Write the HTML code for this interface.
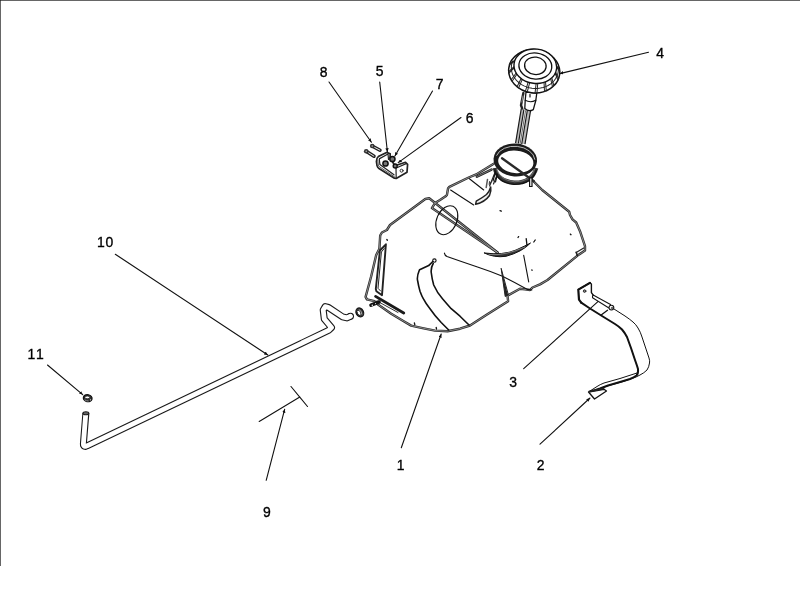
<!DOCTYPE html>
<html><head><meta charset="utf-8">
<style>
html,body{margin:0;padding:0;background:#fff;}
body{width:800px;height:600px;overflow:hidden;position:relative;font-family:"Liberation Sans",sans-serif;}
svg{position:absolute;left:0;top:0;}
text{font-family:"Liberation Sans",sans-serif;font-size:15px;fill:#000;text-anchor:middle;stroke:#000;stroke-width:0.35px;}
.l{stroke:#111;stroke-width:1.1;fill:none;stroke-linecap:round;stroke-linejoin:round;}
.t{stroke:#111;stroke-width:0.9;fill:none;stroke-linecap:round;stroke-linejoin:round;}
.d{stroke:#222;stroke-width:2.6;fill:none;stroke-linecap:round;stroke-linejoin:round;}
.dw{stroke:#fff;stroke-width:0.9;fill:none;stroke-linecap:round;stroke-linejoin:round;}
.k{stroke:#000;stroke-width:2;fill:none;stroke-linecap:round;stroke-linejoin:round;}
</style></head><body>
<svg width="800" height="600" viewBox="0 0 800 600">
<defs>
<marker id="a" viewBox="0 0 10 10" refX="10" refY="5" markerWidth="3.6" markerHeight="3.4" preserveAspectRatio="none" orient="auto" markerUnits="userSpaceOnUse"><path d="M0,0 L10,5 L0,10 z" fill="#111"/></marker>
</defs>
<!-- frame -->
<rect x="0" y="0" width="800" height="1" fill="#666"/>
<rect x="0" y="0" width="1" height="566" fill="#666"/><rect x="0" y="0" width="1" height="1" fill="#333"/>

<!-- LABELS -->
<g id="labels" style="filter:grayscale(1)" >
<text transform="translate(323.7,76.5) scale(0.93,1)">8</text>
<text transform="translate(379.7,76) scale(0.93,1)">5</text>
<text transform="translate(439.7,88.5) scale(0.93,1)">7</text>
<text transform="translate(469.7,122.5) scale(0.93,1)">6</text>
<text transform="translate(660.2,58) scale(0.93,1)">4</text>
<text transform="translate(105.6,246.6) scale(0.93,1)" style="letter-spacing:0.9px">10</text>
<text transform="translate(36.6,358.5) scale(0.93,1)" style="letter-spacing:2px">11</text>
<text transform="translate(266.9,517) scale(0.93,1)">9</text>
<text transform="translate(400.5,469.6) scale(0.93,1)">1</text>
<text transform="translate(540.7,470.4) scale(0.93,1)">2</text>
<text transform="translate(513.2,387) scale(0.93,1)">3</text>
</g>

<!-- TANK -->
<g id="tank" fill="none" stroke-linecap="round" stroke-linejoin="round">
<path d="M493.7,163.7 L476.2,174.4 L468.7,177.5 L449.4,186.9 L448.1,188.3 L446.9,195 L445.6,196.3 L440,200 L435,203.1 L431.9,208.1 L497.5,252.5" stroke="#2b2b2b" stroke-width="2.4"/>
<path d="M497.5,252.5 L429.2,198.3 L425.3,199 L390,225 L386.9,230 L381.9,232.5 L380.2,235.5 L379.4,248.7 L376.2,255 L371.2,276.2 L365.6,296.9 L366.9,299.4 L374.4,301.2 L378.7,305 L391.2,313.7 L403.7,321.2 L411.2,325.6 L422.5,328.1 L435,330.6 L447.5,331.2 L460,328.7 L470,325.5 L486.2,315 L508.1,301.2 L507.5,295.6 L520,288.7 L525,289.4 L530,290 L532.5,287.5 L540,284.4 L547.5,280 L577.5,255.6 L585,250.6 L585,246.2 L580,231.2 L576.2,222.5 L572.5,219.4 L570,215 L569.2,211.7 L542.2,190 L533.7,181.5" stroke="#2b2b2b" stroke-width="2.4"/>
<path d="M493.7,163.7 L476.2,174.4 L468.7,177.5 L449.4,186.9 L448.1,188.3 L446.9,195 L445.6,196.3 L440,200 L435,203.1 L431.9,208.1 L497.5,252.5" stroke="#b0b0b0" stroke-width="0.7"/>
<path d="M497.5,252.5 L429.2,198.3 L425.3,199 L390,225 L386.9,230 L381.9,232.5 L380.2,235.5 L379.4,248.7 L376.2,255 L371.2,276.2 L365.6,296.9 L366.9,299.4 L374.4,301.2 L378.7,305 L391.2,313.7 L403.7,321.2 L411.2,325.6 L422.5,328.1 L435,330.6 L447.5,331.2 L460,328.7 L470,325.5 L486.2,315 L508.1,301.2 L507.5,295.6 L520,288.7 L525,289.4 L530,290 L532.5,287.5 L540,284.4 L547.5,280 L577.5,255.6 L585,250.6 L585,246.2 L580,231.2 L576.2,222.5 L572.5,219.4 L570,215 L569.2,211.7 L542.2,190 L533.7,181.5" stroke="#b0b0b0" stroke-width="0.7"/>
<!-- raised rim near neck -->
<path d="M476.9,176.6 L491.5,169.6" stroke="#222" stroke-width="2.6"/>
<path d="M476.9,176.6 L491.5,169.6" stroke="#aaa" stroke-width="0.6"/>
<!-- tab notch right -->
<path d="M576.2,252.5 L583.7,248.1" stroke="#222" stroke-width="1.2"/>
<path d="M576.2,252.3 L577.3,255.5" stroke="#222" stroke-width="1.6"/>
<!-- interior lines -->
<path d="M469.4,178.7 L483.7,190 M450.6,190 L473.7,205" stroke="#111" stroke-width="1.1"/>
<ellipse cx="446.8" cy="220.2" rx="10" ry="15.2" transform="rotate(24 446.8 220.2)" stroke="#111" stroke-width="1.1"/>
<!-- smile -->
<path d="M484.4,253 Q503,255.5 516,250 Q526,245.5 530.5,243 Q522,252 506,256.3 Q494,258 484.4,253 Z" fill="#333" stroke="#111" stroke-width="1"/>
<path d="M489,254.6 Q505,256 525,247" stroke="#bbb" stroke-width="0.6"/>
<path d="M526.2,238.7 L526.9,244.6" stroke="#111" stroke-width="1.3"/>
<!-- crescent near neck -->
<path d="M475.6,204.3 Q485,202 489.5,195.5 Q491.5,191.5 490.7,187 Q489.5,191.5 486.5,194.5 Q482,198 476.3,201.2 Z" fill="#f0f0f0" stroke="#222" stroke-width="1.5"/>
<path d="M487.5,179.4 L486.2,187.5" stroke="#555" stroke-width="1.5"/>
<path d="M489.5,181.5 L489.2,184.5 M489.3,183 L491,182.6" stroke="#333" stroke-width="0.9"/>
<path d="M495,172.5 L489.6,186 M497.2,174.5 L493.5,184" stroke="#222" stroke-width="1.2"/>
<path d="M523.7,255.3 L528.7,281.9" stroke="#111" stroke-width="1.1"/>
<path d="M444.4,253.1 Q444.8,255.5 447,256.6 Q462,262 477.5,266.9 Q490,271 502.5,276.2 Q516,283 527.5,289.4 L531.9,290" stroke="#111" stroke-width="1.1"/>
<!-- vertical wedge -->
<path d="M501.2,268.7 L505.2,296.5 L508,295 Z" fill="#222" stroke="#222" stroke-width="1"/>
<!-- strap bands -->
<circle cx="434.4" cy="260.6" r="1.7" stroke="#111" stroke-width="1.1"/>
<path d="M432.8,261.5 L428.7,265.6 L419.6,269.8 M419.4,270 Q416.5,277 417.7,281 Q418.5,286 420,291.2 Q423,300 430,308.7 Q435,316 441.2,322.5 L448.7,330" stroke="#111" stroke-width="1.6"/>
<path d="M433.2,263.5 Q430.6,268 431.3,273 Q432,279 433.7,285 Q437,292.5 442.5,298.7 Q447,304 451.2,308.7 L460,316.2 L469,325" stroke="#111" stroke-width="1.6"/>
<!-- left window -->
<path d="M385.9,244.3 L379.9,250.5 L375.8,289 L376.4,291.3 L382,295.3 Z" stroke="#222" stroke-width="1.9"/>
<path d="M384.2,248.5 L381.4,252 L378,288.3 L380.6,291" stroke="#222" stroke-width="1"/>
<path d="M386.9,239.6 L387.3,240.2" stroke="#111" stroke-width="1.5"/>
<!-- bottom-left bar & bolt -->
<path d="M375.6,296.4 L403.7,313" stroke="#1a1a1a" stroke-width="2.8"/>
<path d="M377,301 L398,312.5" stroke="#333" stroke-width="1"/>
<path d="M371,305.2 L379,302" stroke="#111" stroke-width="3.6"/>
<circle cx="372.3" cy="305.2" r="0.8" fill="#eee"/><circle cx="375.5" cy="303.6" r="0.6" fill="#ddd"/>
<!-- ticks/dots -->
<path d="M500,210.7 L501.3,211.2 M570.3,234.1 L571,234.7 M518,237.5 L518.6,236.6 M533.8,242 L535.2,240 M531.7,270 L532.1,270.2 M414.4,323 L414.8,324.6 M436.2,327.5 L436.5,329" stroke="#111" stroke-width="1.3"/>
</g>
<!-- NECK RING -->
<g id="ring">
<!-- tubes from cap to ring -->
<path d="M522.6,109 L516.8,143 M529,111 L523.3,144" fill="none" stroke="#bbb" stroke-width="3"/>
<path d="M521.3,108.5 L515.6,143 M523.9,109.5 L518.4,143.5 M527.3,110.5 L521.7,144 M530.6,110.5 L525,144.2" fill="none" stroke="#1a1a1a" stroke-width="1.2"/>
<path d="M525.6,110.3 L520.1,143.8" fill="none" stroke="#555" stroke-width="0.9"/>
<!-- lower ring edge -->
<path d="M494.8,168 Q497,180.5 514,182.6 Q532,183 536.3,168" fill="none" stroke="#333" stroke-width="4.2"/>
<path d="M494.6,169.5 Q497.5,183 514,184.4 Q532,184.6 536.4,170" fill="none" stroke="#111" stroke-width="1.2"/>
<path d="M496.5,168.5 Q499,180 514.5,181.8 Q531,182 535,168.5" fill="none" stroke="#999" stroke-width="0.6"/>
<!-- tank edge through ring -->
<ellipse cx="515.3" cy="160" rx="21.8" ry="16.5" fill="#1c1c1c" transform="rotate(4 515.3 160)"/>
<ellipse cx="515.8" cy="161.9" rx="17.7" ry="11.2" fill="#fff" transform="rotate(6 515.8 161.9)"/>
<path d="M496.3,157 A19.6,13.9 0 0 1 534.8,158.3" fill="none" stroke="#c8c8c8" stroke-width="0.9" transform="rotate(4 515.3 160)"/>
<path d="M502,158.3 L534,181.2" fill="none" stroke="#2a2a2a" stroke-width="2.3" stroke-linecap="round"/>
<path d="M529.6,178 L529.6,186.5 L532,186.5 L532,178 Z" fill="#fff" stroke="#111" stroke-width="1.2"/>
<path class="l" d="M495.5,172 L493,181 M497.5,174 L495.5,182" />
</g>
<!-- CAP -->
<g id="cap" fill="none" stroke-linecap="round" stroke-linejoin="round">
<!-- stem -->
<path d="M526,92 L525.2,100.5 L524.8,108.5 Q528.5,112.2 533.3,109.6 L535.8,100.5 L536.8,93 Z" fill="#fff" stroke="#111" stroke-width="1.3"/>
<path d="M525.2,100.3 Q530.5,103.2 535.8,100.2" stroke="#111" stroke-width="1.1"/>
<path d="M523.4,93 L521,105.3 L522.2,108.4" stroke="#222" stroke-width="2.4"/>
<path d="M523,96 L521.9,102" stroke="#ddd" stroke-width="0.6"/>
<path d="M530,94.6 L530,97" stroke="#111" stroke-width="1.2"/>
<g transform="rotate(7 535 68)">
<ellipse cx="534.6" cy="71.3" rx="25.6" ry="21.6" fill="#fff" stroke="#111" stroke-width="1.5"/>
<path d="M558.0,64.5 L558.4,66.8 L558.5,69.2 L558.2,71.6 L557.6,73.9 L556.7,76.2 L555.5,78.3 L554.0,80.3 L552.2,82.2 L550.1,83.8 L547.9,85.2 L545.4,86.4 L542.8,87.3 L540.1,88.0 L537.3,88.4 L534.5,88.5 L531.7,88.3 L528.9,87.8 L526.2,87.1 L523.7,86.1 L521.3,84.8 L519.0,83.3 L517.1,81.6 L515.4,79.7 L513.9,77.7 L512.8,75.5 L511.9,73.2 L511.5,70.9 L511.3,68.5 L511.5,66.1 L512.0,63.8" stroke="#222" stroke-width="1"/>
<path d="M556.2,63.2 L559.8,67.0 M556.4,64.5 L560.1,68.7 M556.0,69.7 L559.7,75.4 M555.7,71.0 L559.2,77.1 M552.9,75.8 L555.9,83.2 M551.9,76.8 L554.7,84.6 M547.1,80.4 L549.0,89.3 M545.7,81.1 L547.3,90.2 M539.6,83.0 L540.0,92.6 M538.0,83.2 L538.1,92.9 M531.5,83.1 L530.2,92.8 M529.9,82.9 L528.3,92.4 M523.8,80.8 L521.1,89.8 M522.5,80.1 L519.5,88.8 M517.8,76.4 L513.9,84.0 M516.9,75.3 L512.8,82.6 M514.4,70.4 L509.8,76.3 M514.0,69.1 L509.4,74.7 M513.9,63.9 L509.2,67.9 M514.2,62.6 L509.6,66.2" stroke="#222" stroke-width="1"/>
<ellipse cx="535.1" cy="66.2" rx="21.4" ry="17.2" fill="#fff" stroke="#111" stroke-width="1.4"/>
<ellipse cx="535.1" cy="66" rx="16.5" ry="13" stroke="#111" stroke-width="1.3"/>
<ellipse cx="535.1" cy="65.8" rx="10.8" ry="8.7" stroke="#111" stroke-width="1.3"/>
</g>
</g>
<!-- BRACKET -->
<g id="bracket" fill="none" stroke-linecap="round" stroke-linejoin="round">
<path d="M372.6,146.2 L380,150.2 M366.6,151.5 L374,156.2" stroke="#222" stroke-width="3.5"/>
<path d="M374.6,147.4 L379.8,150.1 M368.6,152.8 L373.8,156.1" stroke="#fff" stroke-width="0.9"/>
<circle cx="372.2" cy="146" r="2.3" fill="#333"/><circle cx="366.2" cy="151.3" r="2.3" fill="#333"/>
<circle cx="372.2" cy="146" r="0.7" fill="#ccc"/><circle cx="366.2" cy="151.3" r="0.7" fill="#ccc"/>
<path d="M386.6,152.4 L378.3,156.6 Q376.5,158 376.4,161.4 L377,165.6 Q377.5,167.5 379,168.5 L394.4,178.2 L396.2,178.5 L407,172.2 L407.6,164.4 L405.5,162.3 L395,165.8 L390,158 L390.2,153.8 Z" fill="#fff" stroke="#222" stroke-width="1.7"/>
<path d="M379.6,158.6 L388,154 L388.5,159.5 M379.3,159.2 L379.9,164.6 L394,174.8 M396.2,168 L406.2,163.6 M396,168 L396.2,178" stroke="#222" stroke-width="1.2"/>
<path d="M377.8,160 L378.4,166 L394.5,176.8" stroke="#555" stroke-width="1"/>
<circle cx="401.6" cy="170.7" r="1.5" stroke="#222" stroke-width="0.9"/>
<circle cx="392.4" cy="159" r="2.6" fill="#777" stroke="#111" stroke-width="1.5"/>
<circle cx="385.5" cy="163.5" r="2.6" fill="#777" stroke="#111" stroke-width="1.5"/>
<circle cx="395.2" cy="166" r="2" fill="#777" stroke="#111" stroke-width="1.4"/>
</g>
<!-- STRAP -->
<g id="strap" fill="none" stroke-linecap="round" stroke-linejoin="round">
<!-- outer thin line -->
<path d="M614,309 L625,316 Q629.5,319 633,322 Q636,324.5 638,328 Q640.5,332 642,337 L646,349 L649,358 Q650,361 649.5,363 Q649,367 647,370 Q644,373 640,375 L636,377 Q625,381.5 608,385.8 Q603,387.5 600,388.7" stroke="#111" stroke-width="1"/>
<!-- upper thin line of bottom section -->
<path d="M637,373 L620,378.5 L604,383 Q600,384.5 597,386.5 L590,391" stroke="#111" stroke-width="1"/>
<!-- tab -->
<path d="M578.3,289.6 L589.9,282.9 L591.4,284 L591.4,292.6 L593.2,295.2" stroke="#111" stroke-width="1.4"/>
<path d="M589.9,282.9 L578.3,289.6 L579,299.7 L581.2,302.7" stroke="#111" stroke-width="2.2"/>
<circle cx="584.6" cy="291.1" r="1.3" fill="#888" stroke="#222" stroke-width="0.9"/>
<!-- pin -->
<path d="M593.2,295 L610.5,304.6 M592.6,297.8 L608.5,307.8 M592.6,297.8 Q592.2,296 593.2,295" stroke="#111" stroke-width="1.1"/>
<circle cx="611.4" cy="307.6" r="2.4" fill="#fff" stroke="#111" stroke-width="1.1"/>
<circle cx="612.2" cy="308.2" r="1" stroke="#222" stroke-width="0.8"/>
<path d="M607.5,310.3 L601.5,314.7" stroke="#111" stroke-width="1.3"/>
<!-- inner thick line -->
<path d="M581.2,302.7 L590,308.5 L602,316 L615,324 Q619,326.5 622,329.5 Q625,333 627,337 L631,348 L635,360 Q637.5,367 638,369 Q638.5,373.5 636.5,375.5 Q634,377.5 630,379 L620,382 L608,385.5 L600,388.5 L591,391.5" stroke="#111" stroke-width="2"/>
<!-- end tab -->
<path d="M588.5,392 L604,389.3 L606.5,391 L594.5,399 Z" fill="#fff" stroke="#111" stroke-width="1.3"/>
<path d="M589.5,391.3 L603.5,388.6" stroke="#222" stroke-width="1.8"/>
</g>
<!-- HOSE -->
<g id="hose">
<path d="M85.9,413 L83.4,443.5 L83.5,445.2 L84.15,446.1 L85.3,446.4 L87,445.8 L328.5,330.4 L331.5,327.6 L324.3,319 L323.2,310 L325.2,306.6 L328.5,307.5 L342.5,316.8 L347,317.9 L350.5,316.3" stroke="#1a1a1a" stroke-width="7" fill="none" stroke-linejoin="round" stroke-linecap="butt"/>
<circle cx="350.5" cy="316.3" r="3.5" fill="#1a1a1a"/>
<path d="M85.9,412 L83.4,443.5 L83.5,445.2 L84.15,446.1 L85.3,446.4 L87,445.8 L328.5,330.4 L331.5,327.6 L324.3,319 L323.2,310 L325.2,306.6 L328.5,307.5 L342.5,316.8 L347,317.9 L350.5,316.3" stroke="#fff" stroke-width="4.8" fill="none" stroke-linejoin="round" stroke-linecap="round"/>
<ellipse cx="85.9" cy="413.2" rx="2.9" ry="1.5" fill="#666" stroke="#1a1a1a" stroke-width="1.1"/>
<!-- clamp 11 -->
<ellipse cx="87.7" cy="398.2" rx="4.4" ry="3.5" fill="#333" stroke="#111" stroke-width="1.2" transform="rotate(12 87.7 398.2)"/>
<ellipse cx="87.3" cy="397.4" rx="2.4" ry="1.3" fill="#fff" stroke="#111" stroke-width="0.7"/>
<circle cx="90.6" cy="399.8" r="0.6" fill="#eee"/>
<path d="M84.6,399.8 Q86.5,401.2 88.5,401" stroke="#ccc" stroke-width="0.6" fill="none"/>
<!-- clamp near tank -->
<g transform="rotate(-28 359.8 312.4)">
<ellipse cx="359.8" cy="312.4" rx="3.7" ry="4.6" fill="#3a3a3a" stroke="#111" stroke-width="1.2"/>
<ellipse cx="358.9" cy="312.4" rx="1.6" ry="2.9" fill="#fff" stroke="#111" stroke-width="0.8"/>
<path d="M360.6,309.5 Q362,312.4 360.6,315.3" stroke="#ccc" stroke-width="0.7" fill="none"/>
</g>
</g>
<!-- LEADERS -->
<g id="leaders" class="l">
<line x1="329" y1="82" x2="371.4" y2="142.2" marker-end="url(#a)"/>
<line x1="379.7" y1="82" x2="387.4" y2="151.8" marker-end="url(#a)"/>
<line x1="432.5" y1="91" x2="394.9" y2="156" marker-end="url(#a)"/>
<line x1="461" y1="117.5" x2="398.2" y2="162.6" marker-end="url(#a)"/>
<line x1="648.5" y1="52.2" x2="559.8" y2="73.6" marker-end="url(#a)"/>
<line x1="115.3" y1="254.3" x2="267.8" y2="355" marker-end="url(#a)"/>
<line x1="47.5" y1="365" x2="82.7" y2="394.6" marker-end="url(#a)"/>
<line x1="266.2" y1="480.3" x2="284.7" y2="409.2" marker-end="url(#a)"/>
<line x1="401.3" y1="447.7" x2="441.2" y2="334" marker-end="url(#a)"/>
<line x1="540" y1="444.2" x2="590" y2="398" marker-end="url(#a)"/>
<line x1="523.7" y1="368.7" x2="597.9" y2="301.6"/>
<!-- 9 mark -->
<line x1="291" y1="386.5" x2="307.5" y2="406.5"/>
<line x1="299.8" y1="397" x2="259.2" y2="421.5"/>
</g>

</svg>
</body></html>
